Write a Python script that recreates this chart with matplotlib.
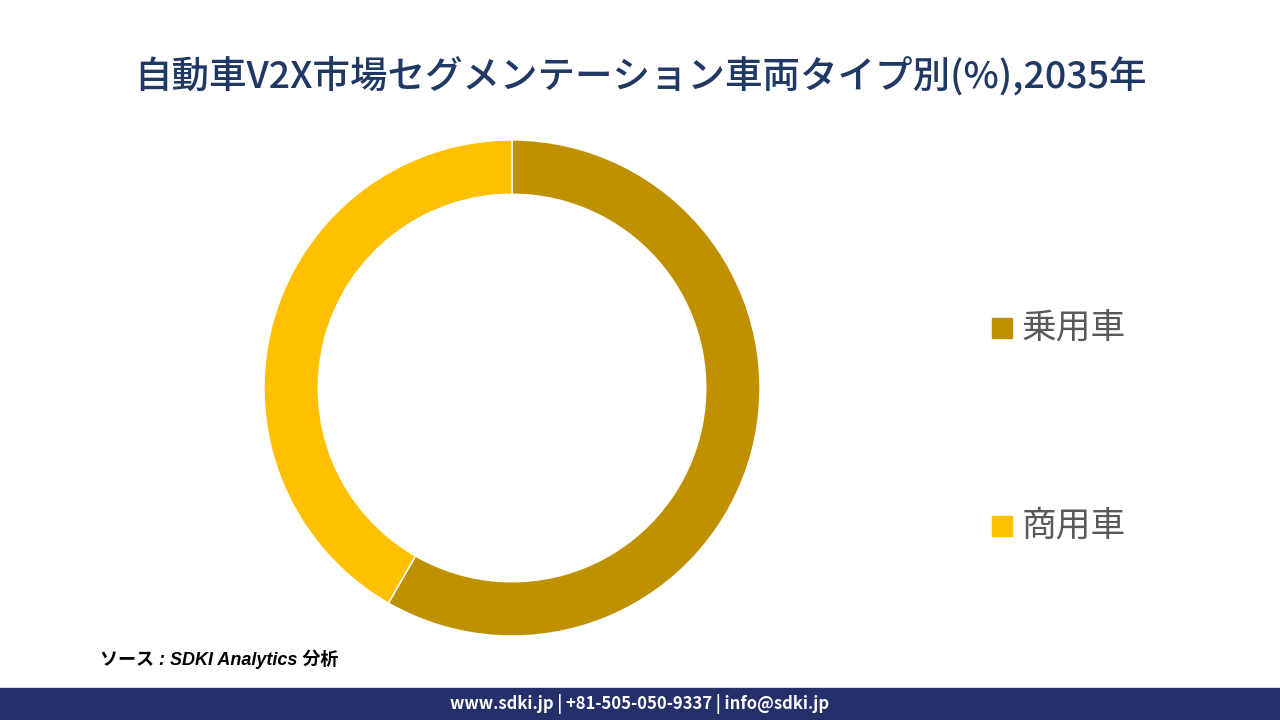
import matplotlib.pyplot as plt
from matplotlib.patches import Rectangle

plt.rcParams['font.family'] = ['Noto Sans CJK JP', 'DejaVu Sans']

labels = ["乗用車", "商用車"]
shares = [58.3, 41.7]
colors = ["#BF9000", "#FFC000"]

fig = plt.figure(figsize=(12.8, 7.2), dpi=100)

fig.text(0.5, 0.895, "自動車V2X市場セグメンテーション車両タイプ別(%),2035年",
         ha="center", va="center", fontsize=27, color="#1F3864", fontweight="medium")

ax = fig.add_axes([(512 - 248) / 1280, 1 - (388 + 248) / 720, 496 / 1280, 496 / 720])
ax.pie(shares, colors=colors, startangle=90, counterclock=False, radius=1.0,
       wedgeprops=dict(width=54 / 247, edgecolor="white", linewidth=1))
ax.set_xlim(-1, 1)
ax.set_ylim(-1, 1)
ax.set_aspect("equal")
ax.axis("off")

for i, (lab, c) in enumerate(zip(labels, colors)):
    y = 1 - (328 + i * 198) / 720
    fig.patches.append(Rectangle((992 / 1280, y - 10 / 720), 20 / 1280, 20 / 720,
                                 transform=fig.transFigure, color=c))
    fig.text(1022 / 1280, y, lab, ha="left", va="center", fontsize=25, color="#595959")

fig.text(100 / 1280, 1 - 659 / 720, "ソース : SDKI Analytics 分析", ha="left", va="center",
         fontsize=13, style="italic", fontweight="bold", color="black",
         family=['Liberation Sans', 'Noto Sans CJK JP'])

fig.patches.append(Rectangle((0, 0), 1, 32 / 720, transform=fig.transFigure, color="#25306B"))
fig.text(0.5, 16 / 720, "www.sdki.jp | +81-505-050-9337 | info@sdki.jp", ha="center",
         va="center", fontsize=12, color="white", fontweight="bold")

fig.savefig("out.png")
